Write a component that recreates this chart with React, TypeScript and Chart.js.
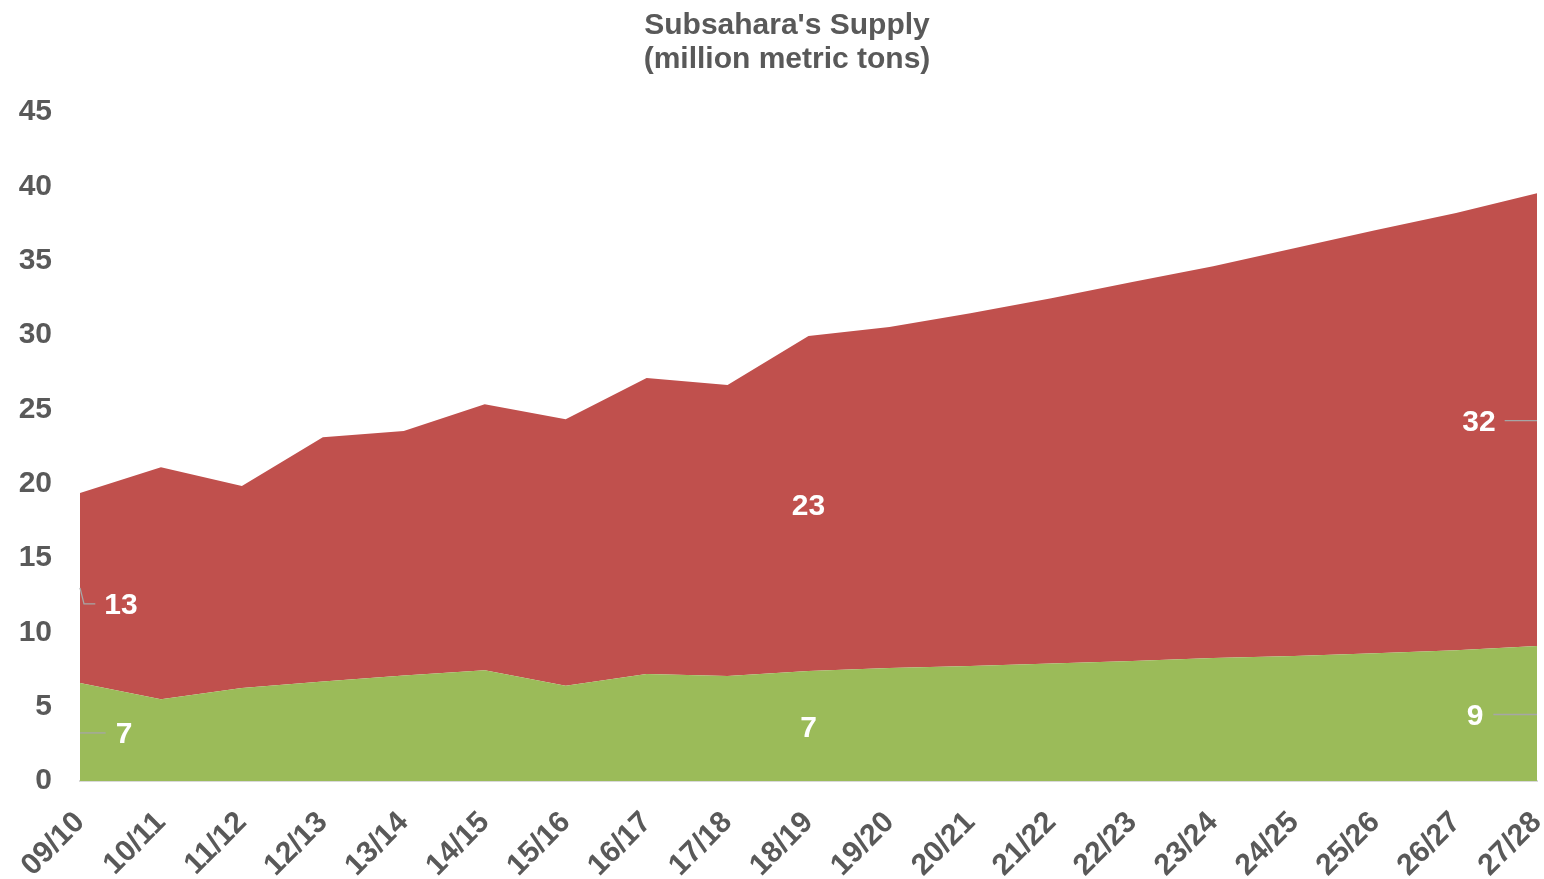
import React, { useEffect, useRef } from "react";
import { Chart, registerables } from "chart.js";

Chart.register(...registerables);

const categories = [
  "09/10", "10/11", "11/12", "12/13", "13/14", "14/15", "15/16", "16/17", "17/18", "18/19",
  "19/20", "20/21", "21/22", "22/23", "23/24", "24/25", "25/26", "26/27", "27/28",
];

// green (bottom) series
const greenValues = [
  6.6, 5.5, 6.25, 6.7, 7.1, 7.45, 6.4, 7.2, 7.06, 7.4,
  7.6, 7.73, 7.9, 8.07, 8.27, 8.4, 8.6, 8.8, 9.08,
];

// red (top) series, stacked on green
const redValues = [
  12.77, 15.6, 13.59, 16.43, 16.44, 17.9, 17.94, 19.9, 19.57, 22.53,
  22.93, 23.74, 24.58, 25.49, 26.36, 27.44, 28.45, 29.4, 30.46,
];

const yTicks = [0, 5, 10, 15, 20, 25, 30, 35, 40, 45];

const titleLines = ["Subsahara's Supply", "(million metric tons)"];

const labelIndices = [0, 9, 18];
const greenLabels = ["7", "7", "9"];
const redLabels = ["13", "23", "32"];

const FONT = 'Arial, "Liberation Sans", sans-serif';
const GREEN = "#9BBB59";
const RED = "#C0504D";
const TEXT = "#595959";

const titlePlugin = {
  id: "customTitle",
  afterDraw(chart: any) {
    const ctx = chart.ctx;
    ctx.save();
    ctx.font = `bold 30px ${FONT}`;
    ctx.fillStyle = TEXT;
    ctx.textAlign = "center";
    ctx.textBaseline = "alphabetic";
    ctx.fillText(titleLines[0], 787, 34);
    ctx.fillText(titleLines[1], 787, 68);
    ctx.restore();
  },
};

const labelPlugin = {
  id: "areaLabels",
  afterDatasetsDraw(chart: any) {
    const ctx = chart.ctx;
    const yScale = chart.scales.y;
    const gMeta = chart.getDatasetMeta(0);
    const rMeta = chart.getDatasetMeta(1);
    const zero = yScale.getPixelForValue(0);
    // per-label placement: [dx, dy] offsets from segment middle
    const gOff = [[44, 1], [0, 1], [-62, 1]];
    const rOff = [[41, 16], [0, 1], [-58, 1]];
    ctx.save();
    ctx.font = `bold 30px ${FONT}`;
    ctx.textAlign = "center";
    ctx.textBaseline = "middle";
    ctx.strokeStyle = "#A6A6A6";
    ctx.lineWidth = 1.3;
    labelIndices.forEach((idx, k) => {
      const gp = gMeta.data[idx];
      const rp = rMeta.data[idx];
      const gMid = (zero + gp.y) / 2;
      const rMid = (gp.y + rp.y) / 2;
      const px = gp.x;
      // green
      const gx = px + gOff[k][0];
      const gy = gMid + gOff[k][1];
      const gw = ctx.measureText(greenLabels[k]).width;
      if (gOff[k][0] > 0) {
        ctx.beginPath();
        ctx.moveTo(px, gy);
        ctx.lineTo(gx - gw / 2 - 10, gy);
        ctx.stroke();
      } else if (gOff[k][0] < 0) {
        ctx.beginPath();
        ctx.moveTo(gx + gw / 2 + 10, gy);
        ctx.lineTo(px, gy);
        ctx.stroke();
      }
      ctx.fillStyle = "#FFFFFF";
      ctx.fillText(greenLabels[k], gx, gy + 2);
      // red
      const rx = px + rOff[k][0];
      const ry = rMid + rOff[k][1];
      const rw = ctx.measureText(redLabels[k]).width;
      if (rOff[k][0] > 0) {
        ctx.beginPath();
        ctx.moveTo(px, rMid);
        ctx.lineTo(px + 4, ry);
        ctx.lineTo(rx - rw / 2 - 9, ry);
        ctx.stroke();
      } else if (rOff[k][0] < 0) {
        ctx.beginPath();
        ctx.moveTo(rx + rw / 2 + 9, ry);
        ctx.lineTo(px, ry);
        ctx.stroke();
      }
      ctx.fillStyle = "#FFFFFF";
      ctx.fillText(redLabels[k], rx, ry + 2);
    });
    ctx.restore();
  },
};

export default function App() {
  const ref = useRef<HTMLCanvasElement | null>(null);

  useEffect(() => {
    document.body.style.margin = "0";
    if (!ref.current) return;
    const chart = new Chart(ref.current, {
      type: "line",
      data: {
        labels: categories,
        datasets: [
          {
            label: "Green",
            data: greenValues,
            backgroundColor: GREEN,
            borderWidth: 0,
            pointRadius: 0,
            fill: "origin",
            tension: 0,
          },
          {
            label: "Red",
            data: redValues,
            backgroundColor: RED,
            borderWidth: 0,
            pointRadius: 0,
            fill: "-1",
            tension: 0,
          },
        ],
      },
      options: {
        animation: false,
        responsive: false,
        layout: { padding: { left: 0, right: 7, top: 112, bottom: 0 } },
        plugins: {
          legend: { display: false },
          tooltip: { enabled: false },
          title: { display: false },
        },
        scales: {
          x: {
            type: "category",
            offset: false,
            grid: { display: false },
            border: { display: true, color: "#D9D9D9", width: 2 },
            ticks: {
              color: TEXT,
              font: { family: FONT, size: 30, weight: "bold" },
              minRotation: 45,
              maxRotation: 45,
              autoSkip: false,
              padding: 16,
            },
            afterFit(scale: any) {
              scale.height = 98;
              scale.paddingLeft = 0;
              scale.paddingRight = 0;
            },
          },
          y: {
            stacked: true,
            min: 0,
            max: 45,
            afterBuildTicks(scale: any) {
              scale.ticks = yTicks.map((v) => ({ value: v }));
            },
            grid: { display: false, drawTicks: false },
            border: { display: false },
            ticks: {
              color: TEXT,
              font: { family: FONT, size: 30, weight: "bold" },
              padding: 28,
            },
            afterFit(scale: any) {
              scale.width = 80;
              scale.paddingTop = 0;
              scale.paddingBottom = 0;
            },
          },
        },
      },
      plugins: [labelPlugin, titlePlugin],
    });
    return () => chart.destroy();
  }, []);

  return (
    <div style={{ position: "absolute", left: 0, top: 0, width: 1544, height: 879 }}>
      <canvas ref={ref} width={1544} height={879} style={{ width: 1544, height: 879 }} />
    </div>
  );
}
